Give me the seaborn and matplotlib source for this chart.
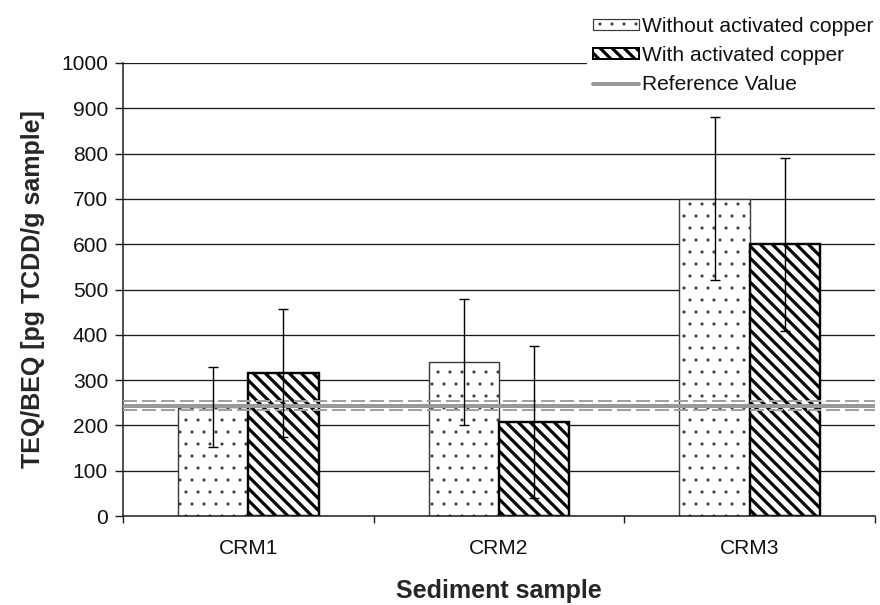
import matplotlib
matplotlib.use("Agg")
import matplotlib.pyplot as plt
import seaborn as sns
import pandas as pd
from matplotlib.patches import Patch
from matplotlib.lines import Line2D

# ---- data ----
samples = ["CRM1", "CRM2", "CRM3"]
treatments = ["Without activated copper", "With activated copper"]
without_vals = [240, 340, 700]
without_err = [88, 139, 180]
with_vals = [316, 207, 600]
with_err = [142, 168, 191]
ref_value = 243.5
ref_bounds = [233.3, 253.9]
ref_label = "Reference Value"
yticks = [0, 100, 200, 300, 400, 500, 600, 700, 800, 900, 1000]

sns.set_theme(style="white")
plt.rcParams["font.family"] = ["Liberation Sans", "DejaVu Sans"]
plt.rcParams["hatch.linewidth"] = 3.2

df = pd.DataFrame({
    "sample": samples * 2,
    "treatment": [treatments[0]] * 3 + [treatments[1]] * 3,
    "value": without_vals + with_vals,
})
errs = [without_err, with_err]

fig = plt.figure(figsize=(880 / 72, 605 / 72), dpi=72)
fig.patch.set_facecolor("white")
ax = fig.add_axes([123 / 880, (605 - 516) / 605, (875 - 123) / 880, (516 - 63) / 605])

sns.barplot(data=df, x="sample", y="value", hue="treatment", order=samples,
            hue_order=treatments, palette=["white", "white"], width=0.56,
            errorbar=None, ax=ax, legend=False, zorder=2)

styles = [
    dict(hatch=".", edge="#3a3a3a", lw=1.4, hlw=0.6),
    dict(hatch="\\\\", edge="black", lw=2.4, hlw=3.2),
]
for cont, st, err in zip(ax.containers, styles, errs):
    xs, hs = [], []
    for p in cont.patches:
        p.set_hatch(st["hatch"])
        p.set_edgecolor(st["edge"])
        p.set_linewidth(st["lw"])
        p.set_facecolor("white")
        if hasattr(p, "set_hatch_linewidth"):
            p.set_hatch_linewidth(st["hlw"])
        xs.append(p.get_x() + p.get_width() / 2)
        hs.append(p.get_height())
    ax.errorbar(xs, hs, yerr=err, fmt="none", ecolor="black", elinewidth=1.4,
                capsize=5, capthick=1.4, zorder=5)

# reference value lines
ax.axhline(ref_value, color="#999999", lw=4, zorder=4)
for b in ref_bounds:
    ax.axhline(b, color="#a0a0a0", lw=2, dashes=(7, 2.5), zorder=4)

ax.set_ylim(0, 1000)
ax.set_xlim(-0.5, 2.5)
ax.set_yticks(yticks)
ax.set_axisbelow(True)
ax.yaxis.grid(True, color="#1a1a1a", lw=1.3)
ax.xaxis.grid(False)
for s in ["top", "right"]:
    ax.spines[s].set_visible(False)
for s in ["left", "bottom"]:
    ax.spines[s].set_color("#1a1a1a")
    ax.spines[s].set_linewidth(1.5)

ax.tick_params(axis="y", direction="out", length=8, width=1.4, color="#1a1a1a",
               pad=7, labelsize=21, labelcolor="#111111", left=True)
ax.tick_params(axis="x", which="major", length=0, pad=23, labelsize=21,
               labelcolor="#111111", bottom=True)
ax.set_xticks([-0.5, 0.5, 1.5, 2.5], minor=True)
ax.tick_params(axis="x", which="minor", direction="out", length=7, width=1.4,
               color="#1a1a1a", bottom=True)

ax.set_xlabel("Sediment sample", fontsize=25, fontweight="bold", labelpad=21)
ax.set_ylabel("TEQ/BEQ [pg TCDD/g sample]", fontsize=25, fontweight="bold",
              labelpad=16)

handles = [
    Patch(facecolor="white", edgecolor="#3a3a3a", hatch=".", lw=1.2),
    Patch(facecolor="white", edgecolor="black", hatch="\\\\", lw=2),
    Line2D([0], [0], color="#999999", lw=4),
]
leg = fig.legend(handles, treatments + [ref_label], loc="upper right",
                 bbox_to_anchor=(1.0, 0.982), fontsize=21, frameon=True,
                 fancybox=False, framealpha=1, facecolor="white",
                 edgecolor="white", handlelength=2.2, handleheight=0.4,
                 handletextpad=0.15, labelspacing=0.48, borderpad=0.3,
                 borderaxespad=0.0)
for t in leg.get_texts():
    t.set_color("#111111")
leg_handles = getattr(leg, "legend_handles", None) or leg.legendHandles
for h, st in zip(leg_handles[:2], styles):
    if hasattr(h, "set_hatch_linewidth"):
        h.set_hatch_linewidth(st["hlw"])

fig.savefig("out.png", dpi=72, facecolor="white")
